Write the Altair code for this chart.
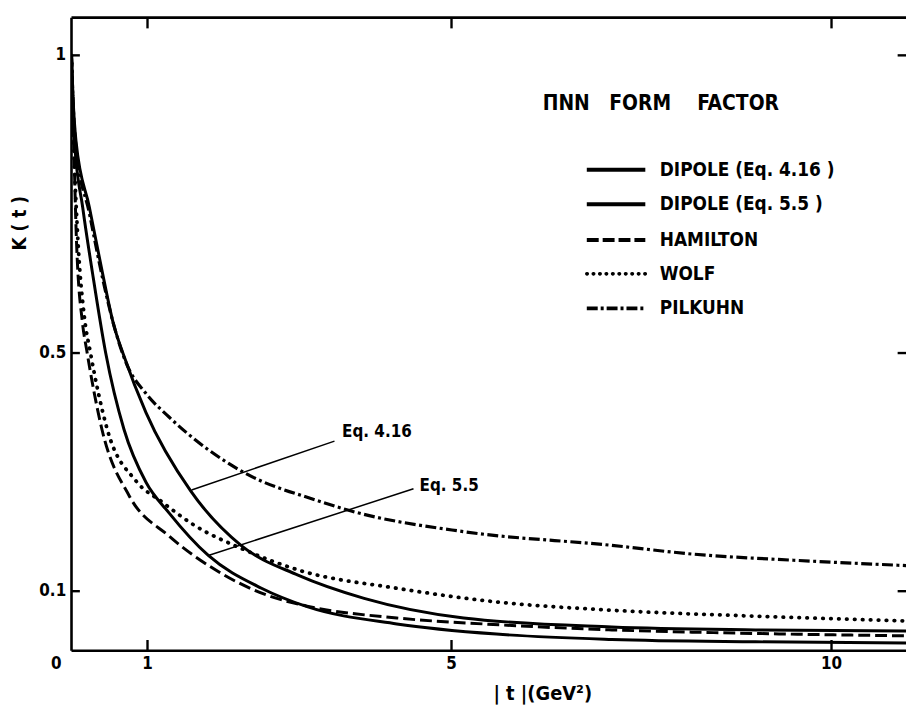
import altair as alt
import pandas as pd

# ---------------- data ----------------
series_names = ["DIPOLE (Eq. 4.16 )", "DIPOLE (Eq. 5.5 )", "HAMILTON", "WOLF", "PILKUHN"]

t_dip416 = [0, 0.02, 0.06, 0.235, 0.41, 0.55, 0.69, 0.98, 1.57, 2.23, 2.98, 3.85, 5.16, 7.11, 9.0, 10.98]
k_dip416 = [1.0, 0.93, 0.855, 0.745, 0.633, 0.55, 0.495, 0.40, 0.268, 0.177, 0.127, 0.088, 0.055, 0.040, 0.035, 0.033]

t_dip55 = [0, 0.015, 0.04, 0.148, 0.278, 0.45, 0.69, 0.98, 1.28, 1.80, 2.5, 3.1, 4.28, 5.59, 7.11, 9.0, 10.98]
k_dip55 = [1.0, 0.93, 0.855, 0.744, 0.633, 0.50, 0.372, 0.283, 0.232, 0.16, 0.105, 0.074, 0.045, 0.028, 0.019, 0.015, 0.013]

t_ham = [0, 0.03, 0.065, 0.145, 0.2, 0.4, 0.76, 1.28, 1.93, 2.58, 3.1, 4.28, 5.42, 7.11, 9.0, 10.98]
k_ham = [1.0, 0.85, 0.69, 0.55, 0.505, 0.372, 0.26, 0.193, 0.133, 0.093, 0.075, 0.055, 0.045, 0.035, 0.029, 0.025]

t_wolf = [0, 0.03, 0.08, 0.17, 0.25, 0.47, 0.85, 1.19, 1.6, 2.23, 3.0, 4.28, 5.59, 7.11, 9.0, 10.98]
k_wolf = [1.0, 0.85, 0.70, 0.56, 0.50, 0.372, 0.285, 0.25, 0.212, 0.172, 0.135, 0.105, 0.082, 0.068, 0.058, 0.05]

t_pil = [0, 0.02, 0.06, 0.235, 0.41, 0.55, 0.72, 0.98, 1.28, 2.26, 3.24, 3.67, 5.16, 7.11, 8.2, 9.5, 10.98]
k_pil = [1.0, 0.925, 0.845, 0.735, 0.625, 0.55, 0.483, 0.432, 0.393, 0.30, 0.252, 0.235, 0.20, 0.177, 0.162, 0.152, 0.143]

x_ticks = [1, 5, 10]
x_tick_labels = ["1", "5", "10"]
y_ticks = [0.1, 0.5, 1.0]
y_tick_labels = ["0.1", "0.5", "1"]

legend_title = "\u03a0NN\u00a0\u00a0\u00a0FORM\u00a0\u00a0\u00a0\u00a0FACTOR"
legend_rows_k = [0.808, 0.75, 0.69, 0.633, 0.575]

ann_text = ["Eq. 4.16", "Eq. 5.5"]
ann_from_t = [1.58, 1.80]
ann_from_k = [0.27, 0.16]
ann_to_t = [3.46, 4.50]
ann_to_k = [0.352, 0.272]

X_MAX = 10.98
Y_MAX = 1.0633
FONT = "Liberation Sans Narrow, DejaVu Sans Condensed, Arial Narrow, sans-serif"

xs = alt.Scale(domain=[0, X_MAX], nice=False, zero=False)
ys = alt.Scale(domain=[0, Y_MAX], nice=False, zero=False)


def curve_df(ts, ks):
    return pd.DataFrame({"t": ts, "K": ks})


styles = [
    dict(strokeWidth=3),
    dict(strokeWidth=3),
    dict(strokeWidth=3, strokeDash=[12, 5]),
    dict(strokeWidth=3.8, strokeDash=[0.5, 7.5], strokeCap="round"),
    dict(strokeWidth=3.2, strokeDash=[11, 3.5, 3, 3.5]),
]
curve_data = [(t_dip416, k_dip416), (t_dip55, k_dip55), (t_ham, k_ham), (t_wolf, k_wolf), (t_pil, k_pil)]

layers = []
for (ts, ks), st in zip(curve_data, styles):
    layers.append(
        alt.Chart(curve_df(ts, ks)).mark_line(color="black", interpolate="monotone", clip=True, **st).encode(
            x=alt.X("t:Q", scale=xs, axis=None), y=alt.Y("K:Q", scale=ys, axis=None)
        )
    )

# frame (left, bottom, top)
frame = pd.DataFrame({"x": [0, 0, 0], "x2": [0, X_MAX, X_MAX], "y": [0, 0, Y_MAX], "y2": [Y_MAX, 0, Y_MAX]})
layers.append(
    alt.Chart(frame).mark_rule(color="black", strokeWidth=2.6).encode(
        x=alt.X("x:Q", scale=xs, axis=None), x2="x2:Q", y=alt.Y("y:Q", scale=ys, axis=None), y2="y2:Q"
    )
)

# inward ticks
tick_rows = []
for v in x_ticks:
    tick_rows.append({"x": v, "x2": v, "y": 0, "y2": 0.018})
    tick_rows.append({"x": v, "x2": v, "y": Y_MAX, "y2": Y_MAX - 0.018})
for v in y_ticks:
    tick_rows.append({"x": 0, "x2": 0.11, "y": v, "y2": v})
    tick_rows.append({"x": X_MAX, "x2": X_MAX - 0.11, "y": v, "y2": v})
layers.append(
    alt.Chart(pd.DataFrame(tick_rows)).mark_rule(color="black", strokeWidth=2.4).encode(
        x=alt.X("x:Q", scale=xs, axis=None), x2="x2:Q", y=alt.Y("y:Q", scale=ys, axis=None), y2="y2:Q"
    )
)

# tick labels
xl = pd.DataFrame({"x": x_ticks + [-0.2], "y": [-0.022] * 4, "txt": x_tick_labels + ["0"]})
layers.append(
    alt.Chart(xl).mark_text(font=FONT, fontWeight="bold", fontSize=17, align="center", baseline="middle").encode(
        x=alt.X("x:Q", scale=xs, axis=None), y=alt.Y("y:Q", scale=ys, axis=None), text="txt:N"
    )
)
yl = pd.DataFrame({"x": [-0.07] * 3, "y": y_ticks, "txt": y_tick_labels})
layers.append(
    alt.Chart(yl).mark_text(font=FONT, fontWeight="bold", fontSize=17, align="right", baseline="middle").encode(
        x=alt.X("x:Q", scale=xs, axis=None), y=alt.Y("y:Q", scale=ys, axis=None), text="txt:N"
    )
)

# axis titles
layers.append(
    alt.Chart(pd.DataFrame({"x": [6.2], "y": [-0.072], "txt": ["| t |(GeV\u00b2)"]})).mark_text(
        font=FONT, fontWeight="bold", fontSize=20, align="center", baseline="middle"
    ).encode(x=alt.X("x:Q", scale=xs, axis=None), y=alt.Y("y:Q", scale=ys, axis=None), text="txt:N")
)
layers.append(
    alt.Chart(pd.DataFrame({"x": [-0.68], "y": [0.718], "txt": ["K ( t )"]})).mark_text(
        font=FONT, fontWeight="bold", fontSize=19, align="center", baseline="middle", angle=270
    ).encode(x=alt.X("x:Q", scale=xs, axis=None), y=alt.Y("y:Q", scale=ys, axis=None), text="txt:N")
)

# legend title
layers.append(
    alt.Chart(pd.DataFrame({"x": [6.2], "y": [0.918], "txt": [legend_title]})).mark_text(
        font=FONT, fontWeight="bold", fontSize=21, align="left", baseline="middle"
    ).encode(x=alt.X("x:Q", scale=xs, axis=None), y=alt.Y("y:Q", scale=ys, axis=None), text="txt:N")
)

# legend samples and labels
leg_styles = [
    dict(strokeWidth=4),
    dict(strokeWidth=4),
    dict(strokeWidth=4, strokeDash=[12, 4]),
    dict(strokeWidth=3.6, strokeDash=[0.5, 6], strokeCap="round"),
    dict(strokeWidth=4, strokeDash=[11, 3, 3, 3]),
]
for name, k, st in zip(series_names, legend_rows_k, leg_styles):
    layers.append(
        alt.Chart(pd.DataFrame({"t": [6.78, 7.55], "K": [k, k]})).mark_line(color="black", **st).encode(
            x=alt.X("t:Q", scale=xs, axis=None), y=alt.Y("K:Q", scale=ys, axis=None)
        )
    )
layers.append(
    alt.Chart(pd.DataFrame({"x": [7.74] * 5, "y": legend_rows_k, "txt": series_names})).mark_text(
        font=FONT, fontWeight="bold", fontSize=19, align="left", baseline="middle"
    ).encode(x=alt.X("x:Q", scale=xs, axis=None), y=alt.Y("y:Q", scale=ys, axis=None), text="txt:N")
)

# annotations
ann = pd.DataFrame({"x": ann_from_t, "x2": ann_to_t, "y": ann_from_k, "y2": ann_to_k})
layers.append(
    alt.Chart(ann).mark_rule(color="black", strokeWidth=1.5).encode(
        x=alt.X("x:Q", scale=xs, axis=None), x2="x2:Q", y=alt.Y("y:Q", scale=ys, axis=None), y2="y2:Q"
    )
)
layers.append(
    alt.Chart(pd.DataFrame({"x": [3.56, 4.58], "y": [0.367, 0.277], "txt": ann_text})).mark_text(
        font=FONT, fontWeight="bold", fontSize=17, align="left", baseline="middle"
    ).encode(x=alt.X("x:Q", scale=xs, axis=None), y=alt.Y("y:Q", scale=ys, axis=None), text="txt:N")
)

chart = (
    alt.layer(*layers)
    .properties(
        width=841,
        height=638,
        padding={"left": 64, "top": 7, "right": 0, "bottom": 58},
        autosize=alt.AutoSizeParams(type="none"),
        background="white",
    )
    .configure_view(stroke=None)
)

chart.save("out.html", embed_options={"renderer": "svg", "actions": False})
